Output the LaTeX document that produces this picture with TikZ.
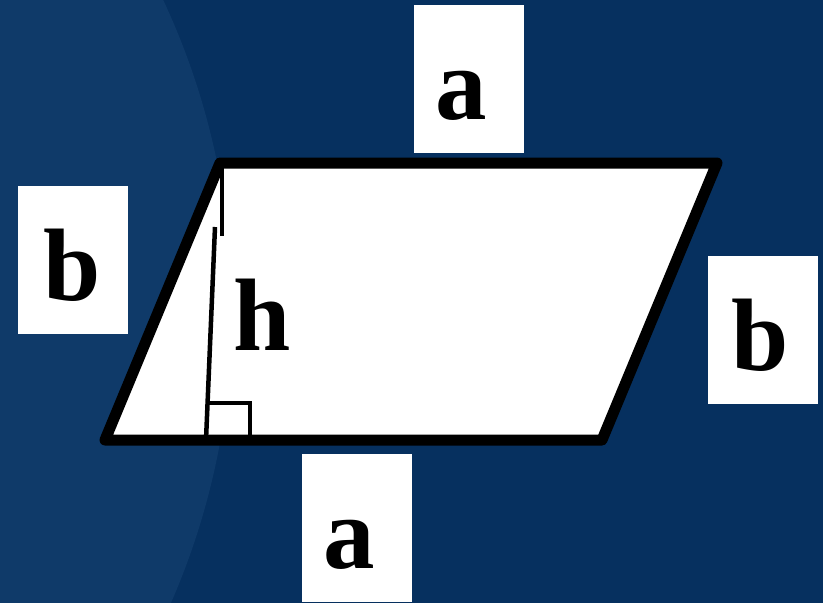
\documentclass[tikz,border=0pt]{standalone}
\usepackage{fontspec}
\setmainfont{Liberation Serif}
\definecolor{bgblue}{HTML}{06305F}
\definecolor{bglight}{HTML}{0F3A69}
\begin{document}
\begin{tikzpicture}[x=1pt,y=-1pt,
  lbl/.style={fill=white,inner sep=0pt,minimum width=110pt,text height=114pt,text depth=34pt,
    font=\fontsize{103}{103}\selectfont\bfseries},
  hlbl/.style={inner sep=0pt,font=\fontsize{103}{103}\selectfont\bfseries},
  side/.style={line width=11pt,line join=round,line cap=round},
  thin/.style={line width=4.5pt}]
\useasboundingbox (0,0) rectangle (823,603);
\fill[bgblue] (0,0) rectangle (823,603);
\begin{scope}
\clip (0,0) rectangle (823,603);
\fill[bglight] (-499,310) circle (731);
\end{scope}
\coordinate (A) at (105,440);
\coordinate (B) at (602,440);
\coordinate (C) at (717,163);
\coordinate (D) at (220,163);
\filldraw[fill=white,draw=black,side] (A) -- (B) -- (C) -- (D) -- cycle;
\coordinate (H1) at (222,163);
\coordinate (H2) at (222,236);
\coordinate (H3) at (215,227);
\coordinate (H4) at (206,440);
\draw[thin] (H1) -- (H2);
\draw[thin] (H3) -- (H4);
\coordinate (R1) at (208,403);
\coordinate (R2) at (250,403);
\coordinate (R3) at (250,440);
\draw[thin,line join=miter] (R1) -- (R2) -- (R3);
\node[lbl,anchor=base] (atop) at (469,119) {\hspace*{-16pt}a};
\node[lbl,anchor=base] (abot) at (357,568) {\hspace*{-16pt}a};
\node[lbl,anchor=base] (bleft) at (73,300) {\hspace*{-2pt}b};
\node[lbl,anchor=base] (bright) at (763,370) {\hspace*{-6pt}b};
\node[hlbl,anchor=base] (h) at (262,350) {h};
\end{tikzpicture}
\end{document}
